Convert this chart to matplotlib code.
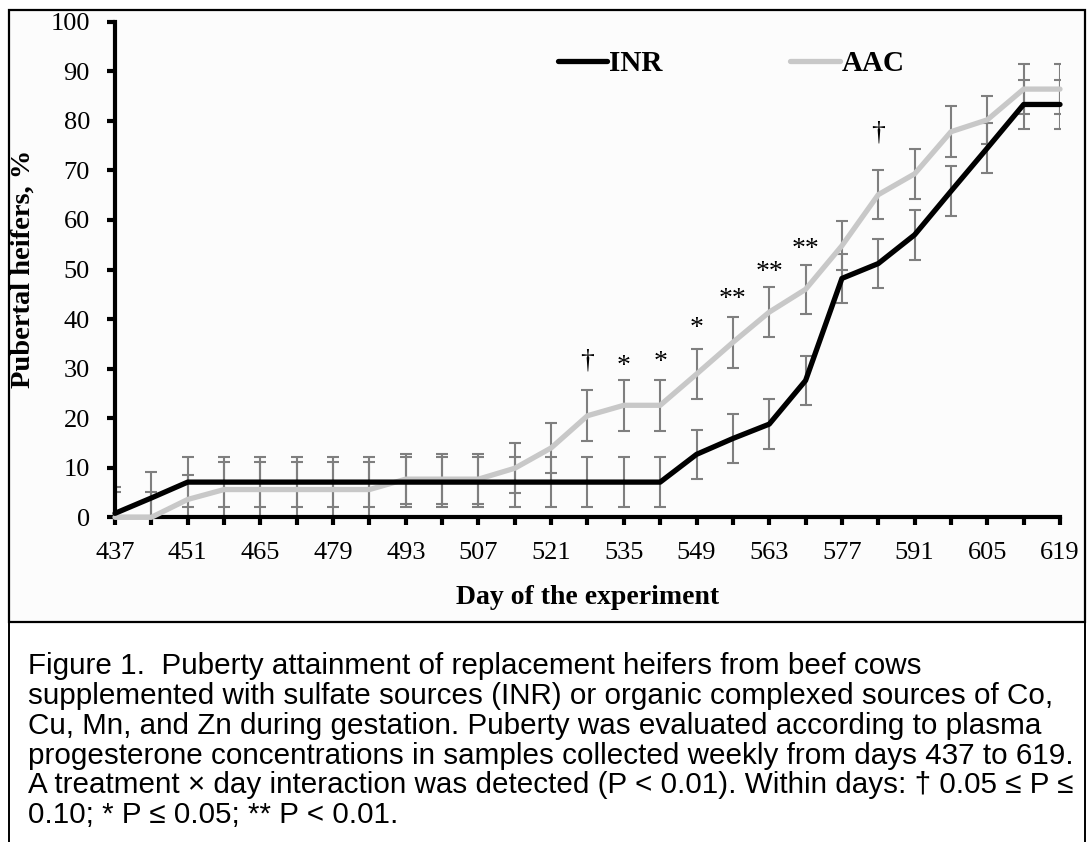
import matplotlib.pyplot as plt
from matplotlib.patches import Rectangle
from matplotlib.lines import Line2D

# weekly sampling days
days = [437, 444, 451, 458, 465, 472, 479, 486, 493, 500, 507, 514, 521, 528,
        535, 542, 549, 556, 563, 570, 577, 584, 591, 598, 605, 612, 619]
tick_days = [437, 451, 465, 479, 493, 507, 521, 535, 549, 563, 577, 591, 605, 619]

# % pubertal heifers
inr = [0.8, 3.9, 7.1, 7.1, 7.1, 7.1, 7.1, 7.1, 7.1, 7.1, 7.1, 7.1, 7.1, 7.1,
       7.1, 7.1, 12.7, 15.9, 18.8, 27.6, 48.2, 51.2, 57.0, 65.8, 74.5, 83.3, 83.3]
inr_se = [5.3, 5.2, 5.0, 5.0, 5.0, 5.0, 5.0, 5.0, 5.0, 5.0, 5.0, 5.0, 5.0, 5.0,
          5.0, 5.0, 5.0, 5.0, 5.0, 5.0, 5.0, 5.0, 5.0, 5.0, 5.0, 5.0, 5.0]
aac = [0.0, 0.0, 3.6, 5.6, 5.6, 5.6, 5.6, 5.6, 7.7, 7.7, 7.7, 9.9, 14.0, 20.5,
       22.6, 22.6, 28.9, 35.3, 41.4, 46.0, 54.8, 65.1, 69.3, 77.8, 80.2, 86.4, 86.4]
aac_se = [5.1, 5.1, 4.9, 5.6, 5.6, 5.6, 5.6, 5.6, 5.0, 5.0, 5.0, 5.0, 5.1, 5.1,
          5.1, 5.1, 5.1, 5.1, 5.0, 5.0, 5.0, 4.9, 5.1, 5.1, 4.8, 5.0, 5.0]

# significance marks
sig_days = [528, 535, 542, 549, 556, 563, 570, 584]
sig_marks = ['\u2020', '*', '*', '*', '**', '**', '**', '\u2020']
sig_y = [31.5, 30.4, 31.3, 38.0, 44.0, 49.3, 54.0, 77.5]

caption = [
    "Figure 1.  Puberty attainment of replacement heifers from beef cows",
    "supplemented with sulfate sources (INR) or organic complexed sources of Co,",
    "Cu, Mn, and Zn during gestation. Puberty was evaluated according to plasma",
    "progesterone concentrations in samples collected weekly from days 437 to 619.",
    "A treatment \u00d7 day interaction was detected (P < 0.01). Within days: \u2020 0.05 \u2264 P \u2264",
    "0.10; * P \u2264 0.05; ** P < 0.01.",
]

plt.rcParams['font.family'] = 'Liberation Serif'

W, H = 1088, 842
fig = plt.figure(figsize=(W / 100, H / 100), dpi=100)
fig.patch.set_facecolor('white')

# chart panel box and caption box sides
fig.patches.append(Rectangle((9 / W, 1 - 622 / H), (1085 - 9) / W, (622 - 10) / H,
                             transform=fig.transFigure, facecolor='#fcfcfc',
                             edgecolor='black', lw=1.6, zorder=-5))
fig.lines.append(Line2D([9 / W, 9 / W], [0, 1 - 622 / H], transform=fig.transFigure,
                        color='black', lw=1.4))
fig.lines.append(Line2D([1085 / W, 1085 / W], [0, 1 - 622 / H], transform=fig.transFigure,
                        color='black', lw=1.4))

ax = fig.add_axes([115 / W, 1 - 517.3 / H, 945 / W, 495.6 / H])
ax.patch.set_alpha(0)
ax.set_zorder(2)

ax.errorbar(days, inr, yerr=inr_se, fmt='none', ecolor='#7f7f7f',
            elinewidth=1.5, capsize=4.3, capthick=1.5)
ax.errorbar(days, aac, yerr=aac_se, fmt='none', ecolor='#7f7f7f',
            elinewidth=1.5, capsize=4.3, capthick=1.5)
l_aac, = ax.plot(days, aac, color='#c8c8c8', lw=3.8, clip_on=False,
                 solid_capstyle='round', zorder=3)
l_inr, = ax.plot(days, inr, color='black', lw=3.8, clip_on=False,
                 solid_capstyle='round', zorder=4)

for d, m, y in zip(sig_days, sig_marks, sig_y):
    ax.text(d, y, m, ha='center', va='center', fontsize=20)

ax.set_xlim(437, 619)
ax.set_ylim(0, 100)
ax.set_xticks(days)
ax.set_xticklabels([str(d) if d in tick_days else '' for d in days])
ax.set_yticks(range(0, 101, 10))
for s in ['top', 'right']:
    ax.spines[s].set_visible(False)
for s in ['left', 'bottom']:
    ax.spines[s].set_linewidth(3)
ax.tick_params(axis='both', direction='out', length=6, width=3, labelsize=19)
ax.tick_params(axis='x', pad=12)
ax.tick_params(axis='y', pad=12)

ax.legend(handles=[l_inr, l_aac], labels=['INR', 'AAC'], ncol=2, loc='center',
          bbox_to_anchor=(0.652, 0.915), frameon=False,
          prop={'weight': 'bold', 'size': 21}, handlelength=1.7,
          handletextpad=0.05, columnspacing=4.4, borderpad=0, borderaxespad=0)

fig.text(23 / W, 1 - 269 / H, 'Pubertal heifers, %', rotation=90, ha='center',
         va='center', fontsize=20.5, fontweight='bold')
fig.text(588 / W, 1 - 598 / H, 'Day of the experiment', ha='center', va='center',
         fontsize=20, fontweight='bold')

for i, line in enumerate(caption):
    fig.text(28 / W, 1 - (674.5 + 29.7 * i) / H, line, family='Liberation Sans',
             fontsize=21.3, ha='left', va='baseline')

fig.savefig('out.png', dpi=100)
